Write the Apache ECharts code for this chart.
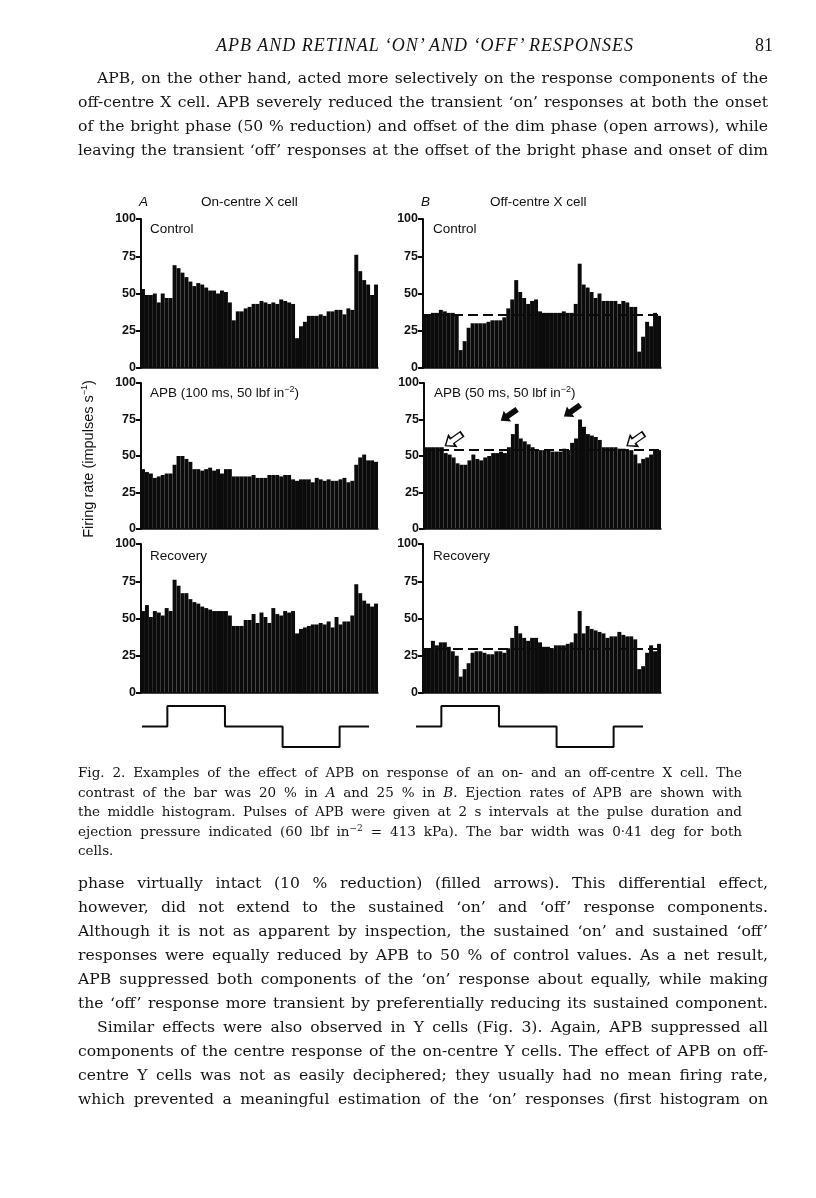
<!DOCTYPE html>
<html>
<head>
<meta charset="utf-8">
<script src="https://cdn.jsdelivr.net/npm/echarts@6/dist/echarts.min.js"></script>
<style>
  html, body {
    margin: 0;
    padding: 0;
    background: #fff;
  }

  .page {
    position: relative;
    width: 816px;
    height: 1198px;
    overflow: hidden;
    color: #141414;
  }

  #chart {
    position: absolute;
    left: 0;
    top: 0;
    width: 816px;
    height: 1198px;
  }

  .txt {
    position: absolute;
    font-family: "DejaVu Serif", serif;
    white-space: nowrap;
  }

  .txt div {
    text-align: justify;
    text-align-last: justify;
  }

  .txt div.last {
    text-align-last: left;
  }

  .txt sup {
    font-size: 9px;
    line-height: 0;
    vertical-align: 5px;
  }

  .body {
    left: 78px;
    width: 690px;
    font-size: 15.6px;
    line-height: 24px;
  }

  .caption {
    left: 78px;
    width: 664px;
    font-size: 13.5px;
    line-height: 19.6px;
  }

  .fig {
    position: absolute;
    font-family: "Liberation Sans", sans-serif;
    font-size: 13.5px;
    white-space: nowrap;
    color: #111;
  }

  .fig sup {
    font-size: 9px;
    line-height: 0;
  }
</style>
</head>
<body>
<div class="page">
  <div id="chart"></div>

  <div class="txt" style="left:216px;top:35px;width:414px;font-family:'Liberation Serif',serif;font-size:18px;font-style:italic;letter-spacing:1px;">
    <div>APB AND RETINAL ‘ON’ AND ‘OFF’ RESPONSES</div>
  </div>
  <div class="txt" style="left:755px;top:35px;font-family:'Liberation Serif',serif;font-size:18px;">81</div>

  <div class="txt body" style="top:66px;">
    <div style="padding-left:19px;">APB, on the other hand, acted more selectively on the response components of the</div>
    <div>off-centre X cell. APB severely reduced the transient ‘on’ responses at both the onset</div>
    <div>of the bright phase (50 % reduction) and offset of the dim phase (open arrows), while</div>
    <div>leaving the transient ‘off’ responses at the offset of the bright phase and onset of dim</div>
  </div>

  <!-- figure headings -->
  <div class="fig" style="left:139px;top:194px;font-style:italic;">A</div>
  <div class="fig" style="left:201px;top:194px;">On-centre X cell</div>
  <div class="fig" style="left:421px;top:194px;font-style:italic;">B</div>
  <div class="fig" style="left:490px;top:194px;">Off-centre X cell</div>

  <div class="fig" style="left:150px;top:221px;">Control</div>
  <div class="fig" style="left:433px;top:221px;">Control</div>
  <div class="fig" style="left:150px;top:385px;">APB (100 ms, 50 lbf in<sup>−2</sup>)</div>
  <div class="fig" style="left:434px;top:385px;">APB (50 ms, 50 lbf in<sup>−2</sup>)</div>
  <div class="fig" style="left:150px;top:548px;">Recovery</div>
  <div class="fig" style="left:433px;top:548px;">Recovery</div>

  <div class="fig" style="left:-1px;top:450px;width:180px;font-size:14.5px;text-align:center;transform:rotate(-90deg);transform-origin:90px 9px;">Firing rate (impulses s<sup>−1</sup>)</div>

  <div class="txt caption" style="top:763px;">
    <div>Fig. 2. Examples of the effect of APB on response of an on- and an off-centre X cell. The</div>
    <div>contrast of the bar was 20 % in <i>A</i> and 25 % in <i>B</i>. Ejection rates of APB are shown with</div>
    <div>the middle histogram. Pulses of APB were given at 2 s intervals at the pulse duration and</div>
    <div>ejection pressure indicated (60 lbf in<sup>−2</sup> = 413 kPa). The bar width was 0·41 deg for both</div>
    <div class="last">cells.</div>
  </div>

  <div class="txt body" style="top:871px;">
    <div>phase virtually intact (10 % reduction) (filled arrows). This differential effect,</div>
    <div>however, did not extend to the sustained ‘on’ and ‘off’ response components.</div>
    <div>Although it is not as apparent by inspection, the sustained ‘on’ and sustained ‘off’</div>
    <div>responses were equally reduced by APB to 50 % of control values. As a net result,</div>
    <div>APB suppressed both components of the ‘on’ response about equally, while making</div>
    <div>the ‘off’ response more transient by preferentially reducing its sustained component.</div>
    <div style="padding-left:19px;">Similar effects were also observed in Y cells (Fig. 3). Again, APB suppressed all</div>
    <div>components of the centre response of the on-centre Y cells. The effect of APB on off-</div>
    <div>centre Y cells was not as easily deciphered; they usually had no mean firing rate,</div>
    <div>which prevented a meaningful estimation of the ‘on’ responses (first histogram on</div>
  </div>
</div>

<script>
  // 60 histogram bins per panel
  const bins = Array.from({length: 60}, (_, i) => i);
  const yTicks = [0, 25, 50, 75, 100];

  // A: on-centre X cell (impulses/s)
  const onControl = [53, 49, 49, 50, 44, 50, 47, 47, 69, 67, 64, 61, 58, 55, 57, 56, 54, 52, 52, 50,
    52, 51, 44, 32, 38, 38, 40, 41, 43, 43, 45, 44, 43, 44, 43, 46, 45, 44, 43, 20,
    28, 31, 35, 35, 35, 36, 35, 38, 38, 39, 39, 36, 40, 39, 76, 65, 59, 56, 49, 56];
  const onApb = [41, 39, 38, 35, 36, 37, 38, 38, 44, 50, 50, 48, 46, 41, 41, 40, 41, 42, 40, 41,
    38, 41, 41, 36, 36, 36, 36, 36, 37, 35, 35, 35, 37, 37, 37, 36, 37, 37, 34, 33,
    34, 34, 34, 32, 35, 34, 33, 34, 33, 33, 34, 35, 32, 33, 44, 49, 51, 47, 47, 46];
  const onRecovery = [55, 59, 51, 55, 54, 52, 57, 55, 76, 72, 67, 67, 63, 61, 60, 58, 57, 56, 55, 55,
    55, 55, 52, 45, 45, 45, 49, 49, 53, 47, 54, 51, 47, 57, 53, 52, 55, 54, 55, 40,
    43, 44, 45, 46, 46, 47, 46, 48, 44, 51, 46, 48, 48, 52, 73, 67, 62, 60, 58, 60];

  // B: off-centre X cell (impulses/s)
  const offControl = [36, 36, 37, 37, 39, 38, 37, 37, 36, 12, 18, 27, 30, 30, 30, 30, 31, 32, 32, 32,
    34, 40, 46, 59, 51, 47, 43, 45, 46, 38, 37, 37, 37, 37, 37, 38, 37, 37, 43, 70,
    56, 54, 51, 47, 50, 45, 45, 45, 45, 43, 45, 44, 41, 41, 11, 21, 31, 28, 37, 35];
  const offApb = [56, 56, 56, 56, 56, 52, 51, 49, 45, 44, 44, 47, 51, 48, 47, 49, 50, 52, 52, 53,
    52, 56, 65, 72, 62, 60, 58, 56, 54, 54, 54, 54, 53, 53, 53, 55, 54, 59, 62, 75,
    70, 65, 64, 63, 61, 56, 56, 56, 56, 55, 55, 54, 54, 51, 45, 48, 49, 51, 54, 54];
  const offRecovery = [29, 30, 35, 32, 34, 34, 31, 28, 25, 11, 16, 20, 27, 28, 28, 27, 26, 26, 28, 28,
    27, 30, 37, 45, 40, 37, 35, 37, 37, 34, 31, 31, 30, 32, 32, 32, 33, 34, 40, 55,
    40, 45, 43, 42, 41, 40, 37, 38, 38, 41, 39, 38, 38, 36, 16, 18, 27, 32, 28, 33];

  // mean firing rate (dashed lines) for B
  const offMeans = [36, 54, 30];

  // arrows on the B APB histogram: [bin, rate]
  const openArrows = [[7, 61], [53, 61]];
  const filledArrows = [[21, 78], [37, 81]];

  // stimulus: phase edges (s) and luminance level (bright 1, dim -1)
  const stimTimes = [0, 0.44, 1.44, 2.44, 3.43, 3.94];
  const stimLevels = [0, 1, 0, -1, 0];

  const ink = '#0b0b0b';

  const panels = [
    {data: onControl, left: 141, top: 219, width: 237, height: 149},
    {data: onApb, left: 141, top: 383, width: 237, height: 146},
    {data: onRecovery, left: 141, top: 544, width: 237, height: 149},
    {data: offControl, left: 423, top: 219, width: 238, height: 149, mean: offMeans[0]},
    {data: offApb, left: 424, top: 383, width: 237, height: 146, mean: offMeans[1], arrows: true},
    {data: offRecovery, left: 423, top: 544, width: 238, height: 149, mean: offMeans[2]}
  ];

  const stimPanels = [
    {left: 142, top: 706, width: 227, height: 41},
    {left: 416, top: 706, width: 227, height: 41}
  ];

  let stimLine = [];
  stimLevels.forEach((lv, i) => {
    stimLine.push([stimTimes[i], lv]);
    stimLine.push([stimTimes[i + 1], lv]);
  });

  const arrowPath = 'path://M0,10 L9,1 L9,6 L22,6 L22,14 L9,14 L9,19 Z';

  let grid = [], xAxis = [], yAxis = [], series = [];

  panels.forEach((p, k) => {
    grid.push({left: p.left, top: p.top, width: p.width, height: p.height});
    xAxis.push({
      type: 'category', gridIndex: k, data: bins, boundaryGap: true,
      axisLine: {lineStyle: {color: ink, width: 1.5}},
      axisTick: {show: false}, axisLabel: {show: false}
    });
    yAxis.push({
      type: 'value', gridIndex: k, min: yTicks[0], max: yTicks[yTicks.length - 1], interval: 25,
      axisLine: {show: true, lineStyle: {color: ink, width: 2}},
      axisTick: {show: true, length: 5, lineStyle: {color: ink, width: 2}},
      axisLabel: {
        color: '#111', fontFamily: 'Liberation Sans', fontWeight: 'bold', fontSize: 12.5, margin: 5
      },
      splitLine: {show: false}
    });
    let s = {
      type: 'bar', xAxisIndex: k, yAxisIndex: k, data: p.data,
      barCategoryGap: '0%', barGap: '0%', silent: true,
      itemStyle: {color: ink}
    };
    if (p.mean !== undefined) {
      s.markLine = {
        silent: true, symbol: 'none', label: {show: false},
        lineStyle: {color: ink, type: [10, 5], width: 2},
        data: [{yAxis: p.mean}]
      };
    }
    if (p.arrows) {
      s.markPoint = {
        silent: true, label: {show: false}, symbol: arrowPath, symbolSize: [20, 13], symbolRotate: 35,
        data: openArrows.map(a => ({coord: a, itemStyle: {color: '#fff', borderColor: ink, borderWidth: 1.5}}))
          .concat(filledArrows.map(a => ({coord: a, itemStyle: {color: ink}})))
      };
    }
    series.push(s);
  });

  stimPanels.forEach((p, j) => {
    let k = panels.length + j;
    grid.push({left: p.left, top: p.top, width: p.width, height: p.height});
    xAxis.push({type: 'value', gridIndex: k, min: 0, max: stimTimes[stimTimes.length - 1], show: false});
    yAxis.push({type: 'value', gridIndex: k, min: -1, max: 1, show: false});
    series.push({
      type: 'line', xAxisIndex: k, yAxisIndex: k, data: stimLine, symbol: 'none', silent: true,
      lineStyle: {color: ink, width: 2}
    });
  });

  let chart = echarts.init(document.getElementById('chart'));
  chart.setOption({
    animation: false,
    grid: grid,
    xAxis: xAxis,
    yAxis: yAxis,
    series: series
  });
</script>
</body>
</html>
